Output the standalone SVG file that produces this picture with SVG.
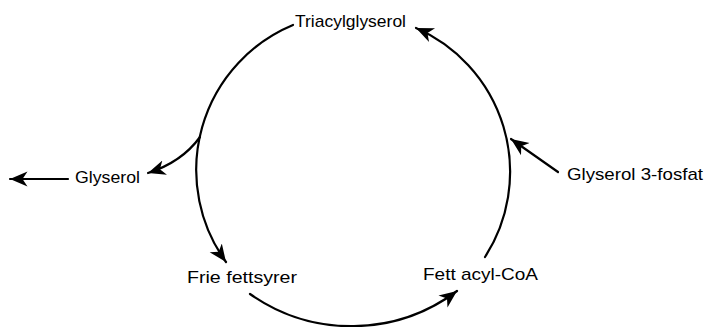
<svg xmlns="http://www.w3.org/2000/svg" width="706" height="327" viewBox="0 0 706 327">
<defs>
<marker id="ah" markerUnits="userSpaceOnUse" markerWidth="20" markerHeight="20" viewBox="-14 -7 16 14" refX="0" refY="0" orient="auto">
<path d="M0,0 L-14,-6 L-10,0 L-14,6 Z" fill="#000"/>
</marker>
<style>
.t{font-family:"Liberation Sans",Arial,Helvetica,sans-serif;font-size:17px;fill:#000}
.c{fill:none;stroke:#000;stroke-width:2.2;stroke-linecap:round}
.a{marker-end:url(#ah)}
</style>
</defs>
<rect width="706" height="327" fill="#fff"/>
<g id="connectors">
<path class="c a" d="M293,25 A157,157 0 0,0 226,262"/>
<path class="c a" d="M250,294 A176,176 0 0,0 457,291"/>
<path class="c a" d="M485,257 A157,157 0 0,0 416,28"/>
<path class="c a" d="M200,137 Q182,162 148,173"/>
<path class="c a" d="M68,179 L10,179"/>
<path class="c a" d="M558,172 L511,139"/>
</g>
<g id="triacylglyserol"><text class="t" x="295" y="27" textLength="111" lengthAdjust="spacingAndGlyphs">Triacylglyserol</text></g>
<g id="glyserol"><text class="t" x="75" y="183" textLength="65" lengthAdjust="spacingAndGlyphs">Glyserol</text></g>
<g id="glyserol3fosfat"><text class="t" x="567" y="180" textLength="136" lengthAdjust="spacingAndGlyphs">Glyserol 3-fosfat</text></g>
<g id="friefettsyrer"><text class="t" x="187" y="283" textLength="110" lengthAdjust="spacingAndGlyphs">Frie fettsyrer</text></g>
<g id="fettacylcoa"><text class="t" x="423" y="280" textLength="115" lengthAdjust="spacingAndGlyphs">Fett acyl-CoA</text></g>
</svg>
